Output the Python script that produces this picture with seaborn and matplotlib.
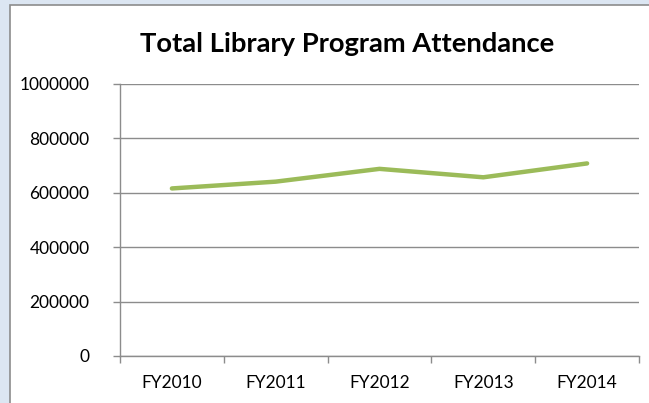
import matplotlib
matplotlib.use("Agg")
import matplotlib.pyplot as plt
import seaborn as sns
import pandas as pd
from matplotlib.patches import Rectangle
from matplotlib.ticker import FixedLocator

categories = ["FY2010", "FY2011", "FY2012", "FY2013", "FY2014"]
attendance = [616000, 641000, 688000, 657000, 708000]
y_ticks = [0, 200000, 400000, 600000, 800000, 1000000]
title = "Total Library Program Attendance"

sns.set_theme(style="white")
plt.rcParams['font.family'] = ['Lato', 'DejaVu Sans']

fig = plt.figure(figsize=(6.49, 4.03), dpi=100)
fig.patch.set_facecolor("#dce6f2")
# chart area box
fig.patches.append(Rectangle((10/649, -0.05), 1.1, (403-5)/403 + 0.05,
                             transform=fig.transFigure, facecolor="white",
                             edgecolor="#8c8c8c", linewidth=1.2, zorder=-5))

ax = fig.add_axes([120/649, 47/403, 519/649, 272/403])
ax.set_zorder(5)
ax.set_facecolor("white")

df = pd.DataFrame({"x": range(len(categories)), "y": attendance})
sns.lineplot(data=df, x="x", y="y", ax=ax, color="#9bbb59", linewidth=3.2,
             solid_capstyle="round", solid_joinstyle="round")

ax.set_xlim(-0.5, len(categories) - 0.5)
ax.set_ylim(0, 1000000)
ax.set_yticks(y_ticks)
ax.set_yticklabels([str(v) for v in y_ticks])
ax.set_xticks(range(len(categories)))
ax.set_xticklabels(categories)
ax.xaxis.set_minor_locator(FixedLocator([i - 0.5 for i in range(len(categories) + 1)]))

ax.grid(axis="y", color="#8c8c8c", linewidth=1.0)
ax.grid(axis="x", visible=False)
for s in ["top", "right"]:
    ax.spines[s].set_visible(False)
for s in ["left", "bottom"]:
    ax.spines[s].set_color("#8c8c8c")
    ax.spines[s].set_linewidth(1.0)

ax.tick_params(axis="y", which="major", length=5, width=1, color="#8c8c8c",
               direction="out", left=True, labelsize=12.5, pad=17, labelcolor="black")
ax.tick_params(axis="x", which="major", length=0, labelsize=12.5, pad=14, labelcolor="black")
ax.tick_params(axis="x", which="minor", length=5, width=1, color="#8c8c8c",
               direction="out", bottom=True)
ax.set_xlabel("")
ax.set_ylabel("")

fig.text(347/649, 1 - 44/403, title, ha="center", va="center",
         fontsize=19.7, fontweight="bold", color="black", zorder=6)

fig.savefig("out.png", dpi=100, facecolor=fig.get_facecolor())
